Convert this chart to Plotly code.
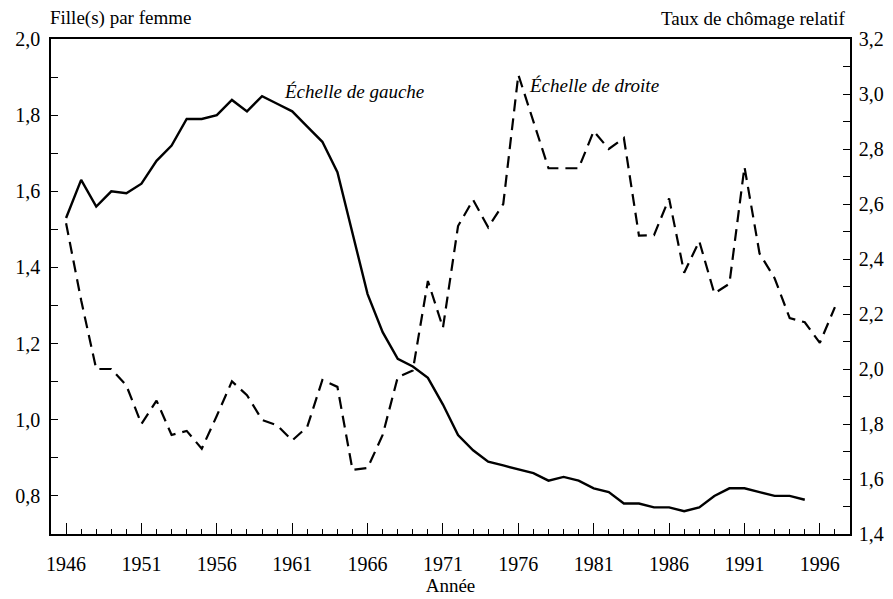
import plotly.graph_objects as go

years_fert = list(range(1946, 1996))
fertility = [1.53, 1.63, 1.56, 1.60, 1.595, 1.62, 1.68, 1.72, 1.79, 1.79,
             1.80, 1.84, 1.81, 1.85, 1.83, 1.81, 1.77, 1.73, 1.65, 1.49,
             1.33, 1.23, 1.16, 1.14, 1.11, 1.04, 0.96, 0.92, 0.89, 0.88,
             0.87, 0.86, 0.84, 0.85, 0.84, 0.82, 0.81, 0.78, 0.78, 0.77,
             0.77, 0.76, 0.77, 0.80, 0.82, 0.82, 0.81, 0.80, 0.80, 0.79]

years_unemp = list(range(1946, 1998))
unemployment = [2.53, 2.25, 2.00, 2.00, 1.94, 1.80, 1.885, 1.76, 1.775, 1.71,
                1.83, 1.955, 1.905, 1.815, 1.795, 1.74, 1.79, 1.96, 1.935, 1.633,
                1.64, 1.76, 1.97, 1.995, 2.32, 2.15, 2.52, 2.615, 2.515, 2.60,
                3.07, 2.90, 2.73, 2.73, 2.73, 2.865, 2.80, 2.84, 2.485, 2.487,
                2.62, 2.35, 2.465, 2.275, 2.31, 2.735, 2.42, 2.33, 2.185, 2.17,
                2.095, 2.225]

font_family = "Liberation Serif"

fig = go.Figure()
fig.add_trace(go.Scatter(x=years_fert, y=fertility, mode="lines",
                         line=dict(color="black", width=2.4),
                         yaxis="y", showlegend=False, hoverinfo="skip"))
fig.add_trace(go.Scatter(x=years_unemp, y=unemployment, mode="lines",
                         line=dict(color="black", width=2.2, dash="12px,7px"),
                         yaxis="y2", showlegend=False, hoverinfo="skip"))

fig.update_layout(
    width=893, height=599,
    margin=dict(l=51, r=43, t=39, b=65),
    paper_bgcolor="white", plot_bgcolor="white",
    separators=", ",
    font=dict(family=font_family, size=20, color="black"),
    xaxis=dict(range=[1945, 1998], tick0=1946, dtick=5, automargin=False,
               ticks="inside", ticklen=11, tickwidth=1, tickcolor="black",
               minor=dict(dtick=1, ticks="inside", ticklen=5, tickcolor="black", tickwidth=1),
               showline=True, linecolor="black", linewidth=1.5, mirror=True,
               showgrid=False, zeroline=False, ticklabelstandoff=11,
               tickfont=dict(family=font_family, size=20),
               title=dict(text="Année", font=dict(family=font_family, size=19), standoff=3)),
    yaxis=dict(range=[0.7, 2.0], dtick=0.2, tickformat=".1f", automargin=False,
               ticks="inside", ticklen=7, tickwidth=1, tickcolor="black",
               minor=dict(dtick=0.1, ticks="inside", ticklen=7, tickcolor="black", tickwidth=1),
               showline=True, linecolor="black", linewidth=1.5,
               tickfont=dict(family=font_family, size=20),
               showgrid=False, zeroline=False, ticklabelstandoff=5),
    yaxis2=dict(range=[1.4, 3.2], dtick=0.2, tickformat=".1f", overlaying="y", side="right",
                automargin=False,
                ticks="inside", ticklen=7, tickwidth=1, tickcolor="black",
                minor=dict(dtick=0.1, ticks="inside", ticklen=7, tickcolor="black", tickwidth=1),
                showline=True, linecolor="black", linewidth=1.5,
                tickfont=dict(family=font_family, size=20),
                showgrid=False, zeroline=False, ticklabelstandoff=3),
    annotations=[
        dict(text="Fille(s) par femme", xref="paper", yref="paper", x=0, y=1,
             xanchor="left", yanchor="bottom", yshift=8, xshift=-3, showarrow=False,
             font=dict(family=font_family, size=19)),
        dict(text="Taux de chômage relatif", xref="paper", yref="paper", x=1, y=1,
             xanchor="right", yanchor="bottom", yshift=8, xshift=-2, showarrow=False,
             font=dict(family=font_family, size=19)),
        dict(text="<i>Échelle de gauche</i>", xref="x", yref="y", x=1960.3, y=1.861,
             xanchor="left", yanchor="middle", showarrow=False,
             font=dict(family=font_family, size=19)),
        dict(text="<i>Échelle de droite</i>", xref="x", yref="y", x=1976.6, y=1.879,
             xanchor="left", yanchor="middle", showarrow=False,
             font=dict(family=font_family, size=19)),
    ],
)

fig.write_html("out.html", config={"displayModeBar": False},
               post_script="document.body.style.margin='0';document.body.style.overflow='hidden';")
